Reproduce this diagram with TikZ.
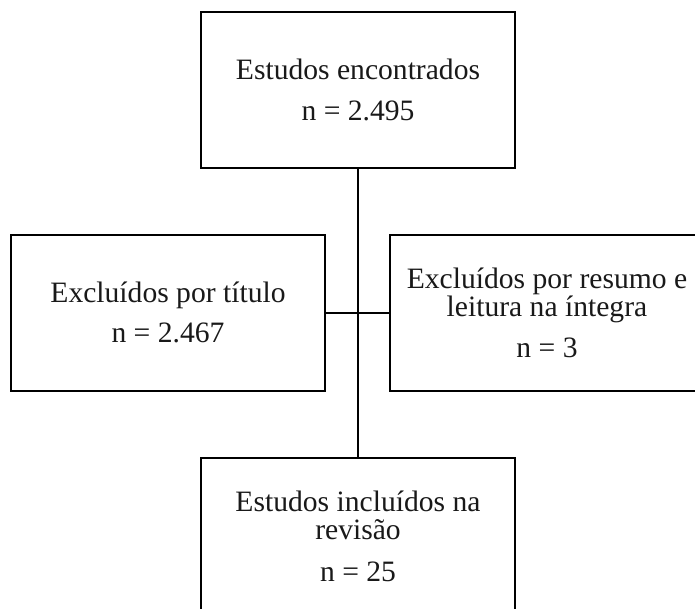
\documentclass[tikz,border=0pt]{standalone}
\usepackage{fontspec}
\setmainfont{Liberation Serif}
\begin{document}
\begin{tikzpicture}[x=1pt,y=-1pt,
  box/.style={draw=black, line width=2pt, rectangle, minimum width=314pt, minimum height=156pt, align=center, inner sep=0pt, font=\fontsize{29.6}{28.5}\selectfont, text=black!90},
  conn/.style={draw=black, line width=2pt}]
\useasboundingbox (0,0) rectangle (695,608);
\clip (0,0) rectangle (695,608);
\node[box] (top) at (358,90) {Estudos encontrados\\[12pt] n = 2.495};
\node[box] (left) at (168,312.5) {Excluídos por título\\[11pt] n = 2.467};
\node[box] (right) at (547,312.5) {Excluídos por resumo e\\ leitura na íntegra\\[12pt] n = 3};
\node[box] (bottom) at (358,536) {Estudos incluídos na\\ revisão\\[13pt] n = 25};
\draw[conn] (top.south) -- (bottom.north);
\draw[conn] (left.east) -- (right.west);
\end{tikzpicture}
\end{document}
